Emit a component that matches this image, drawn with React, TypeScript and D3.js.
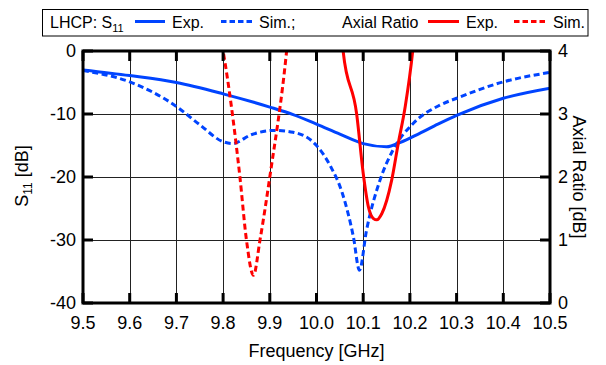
import React from "react";
import * as d3 from "d3";

const xTicks = [9.5, 9.6, 9.7, 9.8, 9.9, 10.0, 10.1, 10.2, 10.3, 10.4, 10.5];
const yLeftTicks = [0, -10, -20, -30, -40];
const yRightTicks = [0, 1, 2, 3, 4];

const s11ExpFreq = [9.5, 9.6, 9.7, 9.8, 9.9, 9.95, 10.0, 10.05, 10.1, 10.15, 10.18, 10.22, 10.26, 10.3, 10.4, 10.5];
const s11ExpVal = [-3.0, -3.9, -5.0, -6.8, -8.9, -10.1, -11.6, -13.2, -14.7, -15.2, -14.5, -13.1, -11.6, -10.2, -7.5, -5.9];

const s11SimFreq = [9.5, 9.6, 9.7, 9.75, 9.8, 9.82, 9.86, 9.91, 9.95, 10.0, 10.03, 10.055, 10.079, 10.092, 10.107, 10.136, 10.164, 10.207, 10.264, 10.3, 10.4, 10.5];
const s11SimVal = [-3.1, -4.9, -8.8, -11.7, -14.4, -14.7, -13.3, -12.6, -12.9, -15.0, -18.3, -22.5, -29.5, -34.8, -28.5, -20.5, -15.7, -11.5, -8.6, -7.5, -4.9, -3.4];

const arSimFreq = [9.79, 9.8, 9.836, 9.85, 9.865, 9.879, 9.9, 9.936, 9.94];
const arSimVal = [4.4, 4.0, 2.0, 1.0, 0.44, 1.0, 2.0, 4.0, 4.3];

const arExpFreq = [10.052, 10.057, 10.086, 10.1, 10.111, 10.122, 10.129, 10.14, 10.161, 10.175, 10.19, 10.206, 10.21];
const arExpVal = [4.4, 4.0, 3.0, 2.06, 1.53, 1.34, 1.32, 1.42, 1.95, 2.53, 3.12, 4.0, 4.3];

const BLUE = "#0044ff";
const RED = "#ff0000";
const FONT = "'Liberation Sans', Arial, sans-serif";

export default function App() {
  const L = 83, R = 550, T = 51, B = 303;
  const x = d3.scaleLinear().domain([9.5, 10.5]).range([L, R]);
  const yL = d3.scaleLinear().domain([-40, 0]).range([B, T]);
  const yR = d3.scaleLinear().domain([0, 4]).range([B, T]);

  const mk = (fs: number[], vs: number[], ys: d3.ScaleLinear<number, number>) =>
    d3
      .line<number>()
      .x((_, i) => x(fs[i]))
      .y((v) => ys(v))
      .curve(d3.curveMonotoneX)(vs) || "";

  const tickLen = 10;

  return (
    <svg
      width={606}
      height={365}
      style={{ position: "absolute", left: 0, top: 0, background: "#fff" }}
      fontFamily={FONT}
    >
      <defs>
        <clipPath id="plot">
          <rect x={L} y={T} width={R - L} height={B - T} />
        </clipPath>
      </defs>
      <rect width={606} height={365} fill="#fff" />

      {/* legend */}
      <rect x={42.5} y={9.5} width={545.5} height={26.5} fill="#fff" stroke="#000" strokeWidth={1} />
      <g fontSize={16} fill="#000">
        <text x={50} y={28}>
          LHCP: S<tspan fontSize={11} dy={4}>11</tspan>
        </text>
        <line x1={135} x2={165} y1={21.5} y2={21.5} stroke={BLUE} strokeWidth={3} />
        <text x={172} y={28}>Exp.</text>
        <line x1={221} x2={253} y1={21.5} y2={21.5} stroke={BLUE} strokeWidth={3} strokeDasharray="5.5,3" />
        <text x={259} y={28}>Sim.;</text>
        <text x={342} y={28}>Axial Ratio</text>
        <line x1={428} x2={459} y1={21.5} y2={21.5} stroke={RED} strokeWidth={3} />
        <text x={466} y={28}>Exp.</text>
        <line x1={514} x2={548} y1={21.5} y2={21.5} stroke={RED} strokeWidth={3} strokeDasharray="5.5,3" />
        <text x={553} y={28}>Sim.</text>
      </g>

      {/* grid */}
      <g stroke="#222" strokeWidth={1}>
        {xTicks.map((t) => (
          <line key={"gx" + t} x1={Math.round(x(t)) + 0.5} x2={Math.round(x(t)) + 0.5} y1={T} y2={B} />
        ))}
        {yLeftTicks.map((t) => (
          <line key={"gy" + t} x1={L} x2={R} y1={Math.round(yL(t)) + 0.5} y2={Math.round(yL(t)) + 0.5} />
        ))}
      </g>

      {/* curves */}
      <g clipPath="url(#plot)" fill="none" strokeWidth={3} strokeLinejoin="round">
        <path d={mk(s11ExpFreq, s11ExpVal, yL)} stroke={BLUE} />
        <path d={mk(s11SimFreq, s11SimVal, yL)} stroke={BLUE} strokeDasharray="6,3.5" />
        <path d={mk(arSimFreq, arSimVal, yR)} stroke={RED} strokeDasharray="6,3.5" />
        <path d={mk(arExpFreq, arExpVal, yR)} stroke={RED} />
      </g>

      {/* frame and ticks */}
      <rect x={L} y={T} width={R - L} height={B - T} fill="none" stroke="#000" strokeWidth={3} />
      <g stroke="#000" strokeWidth={3}>
        {xTicks.map((t) => (
          <g key={"tx" + t}>
            <line x1={x(t)} x2={x(t)} y1={B} y2={B - tickLen} />
            <line x1={x(t)} x2={x(t)} y1={T} y2={T + tickLen} />
          </g>
        ))}
        {yLeftTicks.map((t) => (
          <g key={"ty" + t}>
            <line x1={L} x2={L + tickLen} y1={yL(t)} y2={yL(t)} />
            <line x1={R} x2={R - tickLen} y1={yL(t)} y2={yL(t)} />
          </g>
        ))}
      </g>

      {/* tick labels */}
      <g fontSize={18} fill="#000">
        {xTicks.map((t) => (
          <text key={"lx" + t} x={x(t)} y={329} textAnchor="middle">
            {t.toFixed(1)}
          </text>
        ))}
        {yLeftTicks.map((t) => (
          <text key={"ly" + t} x={76} y={yL(t)} dy="0.35em" textAnchor="end">
            {t}
          </text>
        ))}
        {yRightTicks.map((t) => (
          <text key={"lr" + t} x={558} y={yR(t)} dy="0.35em" textAnchor="start">
            {t}
          </text>
        ))}
      </g>

      {/* axis titles */}
      <g fontSize={18} fill="#000">
        <text x={316.5} y={357} textAnchor="middle">Frequency [GHz]</text>
        <text transform="translate(28,176) rotate(-90)" textAnchor="middle">
          S<tspan fontSize={12} dy={4}>11</tspan>
          <tspan dy={-4}> [dB]</tspan>
        </text>
        <text transform="translate(573,177) rotate(90)" textAnchor="middle">Axial Ratio [dB]</text>
      </g>
    </svg>
  );
}
